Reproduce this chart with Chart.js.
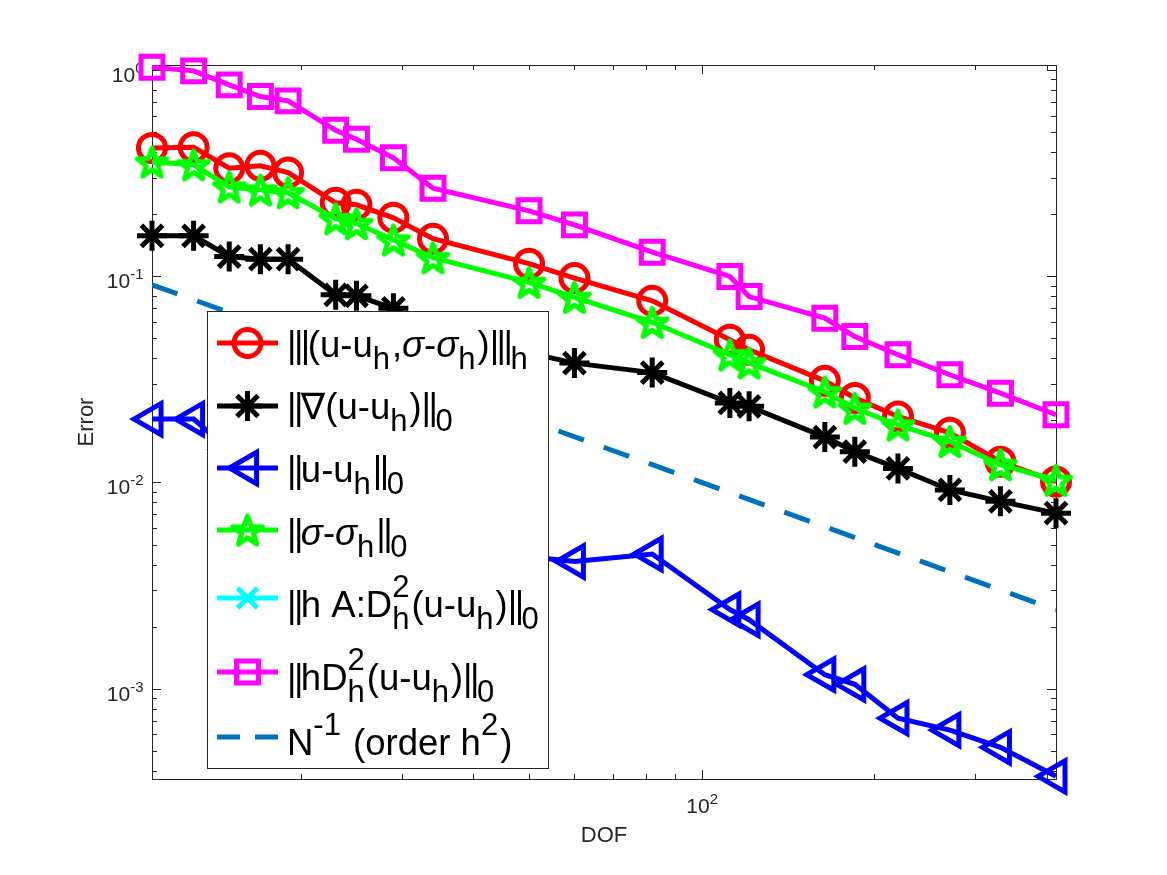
<!DOCTYPE html>
<html>
<head>
<meta charset="utf-8">
<title>Error vs DOF</title>
<script src="https://cdn.jsdelivr.net/npm/chart.js@4.4.1/dist/chart.umd.min.js"></script>
<style>
  html, body { margin: 0; padding: 0; background: #fff; }
  #wrap { width: 1167px; height: 875px; position: relative; }
</style>
</head>
<body>
<div id="wrap"><canvas id="errorChart"></canvas></div>
<script>
// degrees of freedom (x values, shared by all series)
const dof = [11, 13, 15, 17, 19, 23, 25, 29, 34, 50, 60, 82, 112, 121, 164, 185, 220, 271, 332, 415];

// error series
const errTriple = [0.419, 0.4215, 0.334, 0.343, 0.318, 0.227, 0.222, 0.192, 0.152, 0.115, 0.098, 0.076, 0.0492, 0.044, 0.0311, 0.0257, 0.0209, 0.0174, 0.0126, 0.0101];
const errGrad   = [0.157, 0.157, 0.1246, 0.121, 0.121, 0.0812, 0.0804, 0.0699, 0.0556, 0.0425, 0.0379, 0.0341, 0.0243, 0.0234, 0.0166, 0.0141, 0.0117, 0.0092, 0.0081, 0.0071];
const errL2     = [0.0203, 0.0203, 0.0144, 0.0136, 0.0132, 0.0092, 0.0087, 0.0070, 0.0056, 0.00436, 0.00414, 0.0045, 0.00242, 0.00216, 0.00117, 0.00105, 0.00072, 0.00063, 0.00052, 0.000376];
const errSigma  = [0.358, 0.347, 0.271, 0.262, 0.254, 0.190, 0.180, 0.150, 0.123, 0.0934, 0.079, 0.0598, 0.0416, 0.038, 0.0275, 0.0229, 0.0190, 0.0158, 0.0122, 0.01025];
// the cyan curve has no visible marks in the figure, only its legend entry
const errHAD2   = [];
const errHD2    = [1.03, 0.99, 0.847, 0.743, 0.708, 0.51, 0.461, 0.375, 0.267, 0.2075, 0.1774, 0.1308, 0.0997, 0.0797, 0.0626, 0.051, 0.0416, 0.0333, 0.0271, 0.0213];

// reference slope line N^-1 (end points)
const refDof = [11, 415];
const refVal = [0.0909, 0.00241];

// axis ranges and tick labels
const xRange = [11, 415];
const yRange = [3.65e-4, 1.057];
const xMajorTicks = [100];
const xMajorExp = ['2'];
const yMajorTicks = [1e-3, 1e-2, 1e-1, 1];
const yMajorExp = ['-3', '-2', '-1', '0'];

// legend labels as rich text runs
const legendText = [
  [['n', '|||(u-u'], ['sub', 'h'], ['n', ','], ['i', 'σ'], ['n', '-'], ['i', 'σ'], ['sub', 'h'], ['n', ')|||'], ['sub', 'h']],
  [['n', '||∇(u-u'], ['sub', 'h'], ['n', ')||'], ['sub', '0']],
  [['n', '||u-u'], ['sub', 'h'], ['n', '||'], ['sub', '0']],
  [['n', '||'], ['i', 'σ'], ['n', '-'], ['i', 'σ'], ['sub', 'h'], ['n', '||'], ['sub', '0']],
  [['n', '||h A:D'], ['supsub', '2', 'h'], ['n', '(u-u'], ['sub', 'h'], ['n', ')||'], ['sub', '0']],
  [['n', '||hD'], ['supsub', '2', 'h'], ['n', '(u-u'], ['sub', 'h'], ['n', ')||'], ['sub', '0']],
  [['n', 'N'], ['sup', '-1'], ['n', ' (order h'], ['sup', '2'], ['n', ')']]
];

const FONT = '"Liberation Sans", Arial, "DejaVu Sans", sans-serif';
const AXIS_COLOR = '#262626';
const LW = 5;

// MATLAB-like pentagram marker
function makePentagram(color, R, lw) {
  const s = Math.ceil(2 * R + 2 * lw + 4);
  const c = document.createElement('canvas');
  c.width = s; c.height = s;
  const g = c.getContext('2d');
  g.strokeStyle = color;
  g.lineWidth = lw;
  g.lineJoin = 'round';
  g.beginPath();
  for (let k = 0; k < 10; k++) {
    const r = k % 2 === 0 ? R : R * 0.4;
    const a = -Math.PI / 2 + k * Math.PI / 5;
    const px = s / 2 + r * Math.cos(a), py = s / 2 + 0.1 * R + r * Math.sin(a);
    if (k === 0) g.moveTo(px, py); else g.lineTo(px, py);
  }
  g.closePath();
  g.stroke();
  return c;
}
const pentagram = makePentagram('#00ff00', 15.5, LW);

function pts(xs, ys) {
  return ys.map((y, i) => ({ x: xs[i], y: y }));
}

const styles = [
  { color: '#ff0000', pointStyle: 'circle', radius: 13.5, rotation: 0 },
  { color: '#000000', pointStyle: 'star', radius: 15, rotation: 0 },
  { color: '#0000ff', pointStyle: 'triangle', radius: 18, rotation: -90 },
  { color: '#00ff00', pointStyle: pentagram, radius: 15, rotation: 0 },
  { color: '#00ffff', pointStyle: 'crossRot', radius: 14, rotation: 0 },
  { color: '#ff00ff', pointStyle: 'rect', radius: 15.5, rotation: 0 }
];
const seriesValues = [errTriple, errGrad, errL2, errSigma, errHAD2, errHD2];

const datasets = seriesValues.map((vals, i) => ({
  label: 'series' + i,
  data: pts(dof, vals),
  borderColor: styles[i].color,
  backgroundColor: 'rgba(0,0,0,0)',
  borderWidth: LW,
  pointStyle: styles[i].pointStyle,
  pointRadius: styles[i].radius,
  pointHoverRadius: styles[i].radius,
  pointRotation: styles[i].rotation,
  pointBorderColor: styles[i].color,
  pointBackgroundColor: 'rgba(0,0,0,0)',
  pointBorderWidth: LW,
  tension: 0,
  clip: false,
  order: 10 - i
}));
datasets.push({
  label: 'N^-1',
  data: pts(refDof, refVal),
  borderColor: '#0072bd',
  borderWidth: LW,
  borderDash: [27, 21],
  borderCapStyle: 'butt',
  pointRadius: 0,
  tension: 0,
  order: 1
});

// draws "10" with a superscript exponent
function drawPow(ctx, exp, x, baseline, align) {
  ctx.font = '21px ' + FONT;
  const wb = ctx.measureText('10').width;
  ctx.font = '15px ' + FONT;
  const we = ctx.measureText(exp).width;
  const total = wb + we;
  const x0 = align === 'right' ? x - total : x - total / 2;
  ctx.fillStyle = AXIS_COLOR;
  ctx.textAlign = 'left';
  ctx.textBaseline = 'alphabetic';
  ctx.font = '21px ' + FONT;
  ctx.fillText('10', x0, baseline);
  ctx.font = '15px ' + FONT;
  ctx.fillText(exp, x0 + wb, baseline - 9);
}

const axesPlugin = {
  id: 'matlabAxes',
  beforeDatasetsDraw(chart) {
    const ctx = chart.ctx;
    const a = chart.chartArea;
    const xs = chart.scales.x, ys = chart.scales.y;
    ctx.save();
    ctx.strokeStyle = AXIS_COLOR;
    ctx.lineWidth = 1;
    ctx.strokeRect(a.left + 0.5, a.top + 0.5, a.right - a.left, a.bottom - a.top);

    const tick = (v, len, axis) => {
      if (axis === 'y') {
        if (v < yRange[0] || v > yRange[1]) return;
        const py = Math.round(ys.getPixelForValue(v)) + 0.5;
        ctx.moveTo(a.left, py); ctx.lineTo(a.left + len, py);
        ctx.moveTo(a.right, py); ctx.lineTo(a.right - len, py);
      } else {
        if (v < xRange[0] || v > xRange[1]) return;
        const px = Math.round(xs.getPixelForValue(v)) + 0.5;
        ctx.moveTo(px, a.bottom); ctx.lineTo(px, a.bottom - len);
        ctx.moveTo(px, a.top); ctx.lineTo(px, a.top + len);
      }
    };
    ctx.beginPath();
    for (let e = -4; e <= 0; e++) {
      for (let k = 2; k <= 9; k++) tick(k * Math.pow(10, e), 5, 'y');
    }
    yMajorTicks.forEach(v => tick(v, 9, 'y'));
    for (let e = 1; e <= 2; e++) {
      for (let k = 2; k <= 9; k++) tick(k * Math.pow(10, e), 5, 'x');
    }
    xMajorTicks.forEach(v => tick(v, 9, 'x'));
    ctx.stroke();

    // tick labels
    yMajorTicks.forEach((v, i) => {
      drawPow(ctx, yMajorExp[i], a.left - 8.5, ys.getPixelForValue(v) + 12, 'right');
    });
    xMajorTicks.forEach((v, i) => {
      drawPow(ctx, xMajorExp[i], xs.getPixelForValue(v) + 0.5, a.bottom + 34, 'center');
    });

    // axis titles
    ctx.fillStyle = AXIS_COLOR;
    ctx.font = '22px ' + FONT;
    ctx.textAlign = 'center';
    ctx.textBaseline = 'alphabetic';
    ctx.fillText('DOF', (a.left + a.right) / 2, a.bottom + 63);
    ctx.save();
    ctx.translate(a.left - 59, (a.top + a.bottom) / 2);
    ctx.rotate(-Math.PI / 2);
    ctx.fillText('Error', 0, 0);
    ctx.restore();
    ctx.restore();
  }
};

// rich text legend (sub/superscripts)
function drawRich(ctx, runs, x, baseline, fs) {
  const subFs = fs * 0.85;
  const put = (txt, size, style, y) => {
    ctx.font = style + size + 'px ' + FONT;
    for (const ch of txt) {
      ctx.fillText(ch, x, y);
      x += ch === '|' ? size * 0.19 : ctx.measureText(ch).width;
    }
  };
  runs.forEach(r => {
    if (r[0] === 'n') put(r[1], fs, '', baseline);
    else if (r[0] === 'i') put(r[1], fs, 'italic ', baseline);
    else if (r[0] === 'sub') { put(r[1], subFs, '', baseline + 0.33 * fs); x += 2; }
    else if (r[0] === 'sup') { put(r[1], subFs, '', baseline - 0.55 * fs); x += 2; }
    else if (r[0] === 'supsub') {
      const x0 = x;
      put(r[1], subFs, '', baseline - 0.55 * fs);
      const x1 = x; x = x0;
      put(r[2], subFs, '', baseline + 0.33 * fs);
      x = Math.max(x, x1) + 2;
    }
  });
}

const legendPlugin = {
  id: 'richLegend',
  afterDraw(chart) {
    const ctx = chart.ctx;
    const box = { x: 207, y: 311, w: 341, h: 457 };
    const rowY = [343, 406, 468, 530, 598, 672, 737];
    const baseY = [357, 419, 482, 545, 617, 690, 755];
    ctx.save();
    ctx.fillStyle = '#ffffff';
    ctx.fillRect(box.x, box.y, box.w, box.h);
    ctx.strokeStyle = AXIS_COLOR;
    ctx.lineWidth = 1;
    ctx.strokeRect(box.x + 0.5, box.y + 0.5, box.w, box.h);

    legendText.forEach((runs, i) => {
      const y = rowY[i];
      ctx.lineWidth = LW;
      if (i < styles.length) {
        const s = styles[i];
        ctx.strokeStyle = s.color;
        ctx.setLineDash([]);
        ctx.beginPath();
        ctx.moveTo(217, y); ctx.lineTo(278, y);
        ctx.stroke();
        ctx.fillStyle = 'rgba(0,0,0,0)';
        Chart.helpers.drawPoint(ctx, {
          pointStyle: s.pointStyle, rotation: s.rotation,
          radius: s.radius, borderWidth: LW
        }, 247.5, y);
      } else {
        ctx.strokeStyle = '#0072bd';
        ctx.setLineDash([23, 15]);
        ctx.beginPath();
        ctx.moveTo(217, y); ctx.lineTo(278, y);
        ctx.stroke();
        ctx.setLineDash([]);
      }
      ctx.fillStyle = '#000000';
      ctx.textAlign = 'left';
      ctx.textBaseline = 'alphabetic';
      drawRich(ctx, runs, 287, baseY[i], 36.5);
    });
    ctx.restore();
  }
};

new Chart(document.getElementById('errorChart').getContext('2d'), {
  type: 'line',
  data: { datasets: datasets },
  options: {
    responsive: true,
    maintainAspectRatio: false,
    animation: false,
    events: [],
    layout: { padding: { left: 152, top: 65, right: 111, bottom: 96 } },
    scales: {
      x: { type: 'logarithmic', min: xRange[0], max: xRange[1], display: false },
      y: { type: 'logarithmic', min: yRange[0], max: yRange[1], display: false }
    },
    plugins: {
      legend: { display: false },
      tooltip: { enabled: false }
    }
  },
  plugins: [axesPlugin, legendPlugin]
});
</script>
</body>
</html>
